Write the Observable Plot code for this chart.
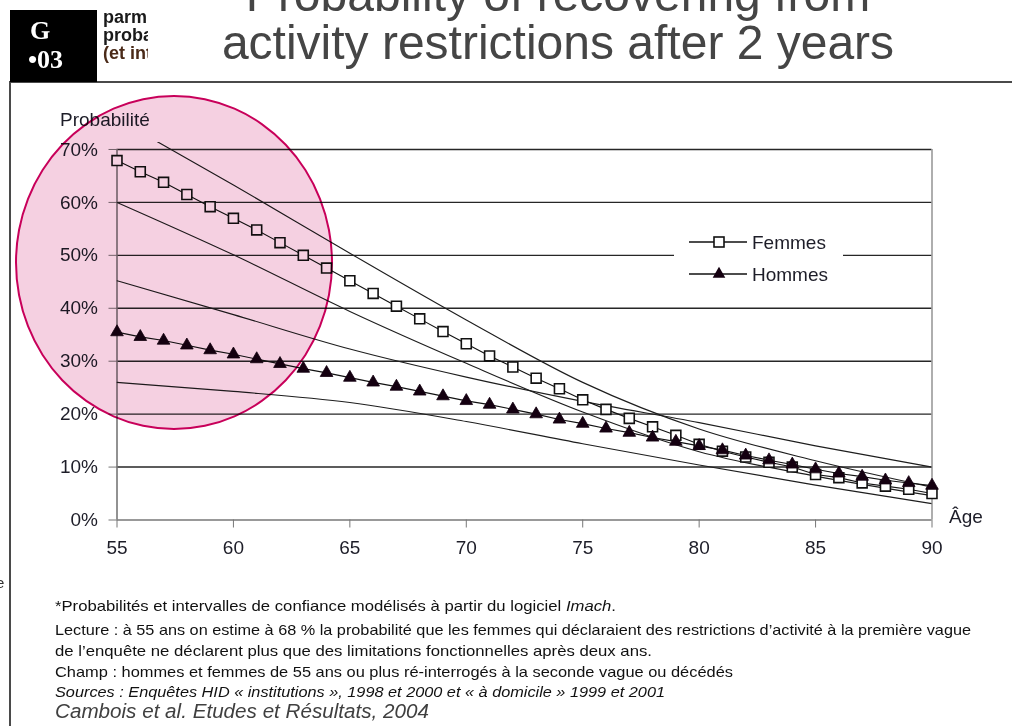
<!DOCTYPE html>
<html>
<head>
<meta charset="utf-8">
<script src="https://cdn.jsdelivr.net/npm/d3@7"></script>
<script src="https://cdn.jsdelivr.net/npm/@observablehq/plot@0.6"></script>
<style>
  html, body { margin: 0; padding: 0; background: #fff; }
  body { width: 1012px; height: 726px; overflow: hidden; position: relative;
         font-family: "Liberation Sans", Arial, sans-serif; }
  #chart { position: absolute; left: 0; top: 100px; }
  #chart svg { overflow: visible; }
  #legend { position: absolute; left: 674px; top: 228px; width: 169px; height: 62px; background: #fff; }
  #ellipse { position: absolute; left: 15px; top: 95px; width: 318px; height: 335px; box-sizing: border-box;
             border: 2px solid #c8005a; border-radius: 50%; background: #f5d0e1; mix-blend-mode: multiply; }
  #overlay { position: absolute; left: 0; top: 0; }
</style>
</head>
<body>
<svg id="overlay" width="1012" height="726"></svg>
<div id="chart"></div>
<div id="legend"></div>
<div id="ellipse"></div>
<script>
// ---------- data ----------
const ages = [55,56,57,58,59,60,61,62,63,64,65,66,67,68,69,70,71,72,73,74,75,76,77,78,79,80,81,82,83,84,85,86,87,88,89,90];
const femmes = [67.9,65.8,63.8,61.5,59.2,57.0,54.8,52.4,50.0,47.6,45.2,42.8,40.4,38.0,35.6,33.3,31.0,28.9,26.8,24.8,22.7,20.9,19.2,17.6,16.0,14.3,13.0,11.9,10.9,10.0,8.6,8.0,7.0,6.4,5.8,5.0];
const hommes = [35.5,34.6,33.9,33.0,32.1,31.3,30.4,29.5,28.6,27.8,26.9,26.0,25.2,24.3,23.4,22.5,21.8,20.9,20.0,19.0,18.2,17.3,16.5,15.6,14.8,14.0,13.2,12.2,11.3,10.5,9.6,8.8,8.2,7.5,7.0,6.5];
const ciAges = [55,60,65,70,75,80,85,90];
const femmesHaut = [75.8,63.3,50.4,37.8,26.0,17.2,11.2,6.2];
const femmesBas  = [60.0,50.1,39.4,29.6,20.4,12.9,8.3,4.6];
const hommesHaut = [45.2,38.8,32.3,27.0,22.4,18.4,14.0,10.0];
const hommesBas  = [26.0,24.3,22.2,18.6,14.4,10.4,6.6,3.1];
const yTicks = [0,10,20,30,40,50,60,70];
const xTicks = [55,60,65,70,75,80,85,90];
const yTop = 71.3;
const seriesNames = ["Femmes", "Hommes"];

// ---------- tables ----------
const femmesData = ages.map((a, i) => ({age: a, v: femmes[i], s: seriesNames[0]}));
const hommesData = ages.map((a, i) => ({age: a, v: hommes[i], s: seriesNames[1]}));
const ciData = [
  ...ciAges.map((a, i) => ({age: a, v: femmesHaut[i], k: "fh"})),
  ...ciAges.map((a, i) => ({age: a, v: femmesBas[i], k: "fb"})),
  ...ciAges.map((a, i) => ({age: a, v: hommesHaut[i], k: "hh"})),
  ...ciAges.map((a, i) => ({age: a, v: hommesBas[i], k: "hb"}))
];
const xMin = d3.min(ages), xMax = d3.max(ages), yMax = d3.max(yTicks);

const chart = Plot.plot({
  width: 1012,
  height: 470,
  marginLeft: 116.5,
  marginRight: 80.5,
  marginTop: 42.1,
  marginBottom: 50.5,
  x: {domain: [xMin, xMax]},
  y: {domain: [0, yTop]},
  style: {background: "transparent", fontFamily: "'Liberation Sans', Arial, sans-serif", fontSize: "19px", color: "#1d1d28", overflow: "visible"},
  marks: [
    Plot.ruleY(yTicks.filter(d => d > 0), {x1: xMin, x2: xMax, stroke: "#262626", strokeWidth: 1.4}),
    Plot.ruleX([xMax], {y1: 0, y2: yMax, stroke: "#8c8c8c", strokeWidth: 1.4}),
    Plot.ruleX([xMin], {y1: 0, y2: yMax, stroke: "#777", strokeWidth: 1.6}),
    Plot.ruleY([0], {x1: xMin, x2: xMax, stroke: "#777", strokeWidth: 1.6}),
    Plot.axisY(yTicks, {tickSize: 8, tickPadding: 11, tickFormat: d => d + "%", stroke: "#777", label: null}),
    Plot.axisX(xTicks, {tickSize: 8, tickPadding: 12, stroke: "#777", label: null}),
    Plot.line(ciData, {x: "age", y: "v", z: "k", curve: "monotone-x", stroke: "#1e1e1e", strokeWidth: 1.15, clip: true}),
    Plot.line(femmesData, {x: "age", y: "v", stroke: "#111", strokeWidth: 1.1}),
    Plot.line(hommesData, {x: "age", y: "v", stroke: "#111", strokeWidth: 1.1}),
    Plot.dot(femmesData, {x: "age", y: "v", symbol: "square", r: 5.6, fill: "white", stroke: "#111", strokeWidth: 1.6}),
    Plot.dot(hommesData, {x: "age", y: "v", symbol: "triangle", r: 4.7, fill: "#140010", stroke: "#140010", strokeWidth: 0.8})
  ]
});
document.getElementById("chart").appendChild(chart);

// ---------- legend ----------
const NS = "http://www.w3.org/2000/svg";
function el(parent, tag, attrs, text) {
  const e = document.createElementNS(NS, tag);
  for (const k in attrs) e.setAttribute(k, attrs[k]);
  if (text != null) e.textContent = text;
  parent.appendChild(e);
  return e;
}
const lg = el(document.getElementById("legend"), "svg", {width: 169, height: 62});
seriesNames.forEach((name, i) => {
  const cy = 14 + i * 32;
  el(lg, "line", {x1: 15, x2: 73, y1: cy, y2: cy, stroke: "#111", "stroke-width": 1.3});
  if (i === 0) el(lg, "rect", {x: 40, y: cy - 5, width: 10, height: 10, fill: "#fff", stroke: "#111", "stroke-width": 1.6});
  else el(lg, "path", {d: d3.symbol(d3.symbolTriangle, Math.PI * 4.7 * 4.7)(), transform: `translate(45,${cy})`, fill: "#140010"});
  el(lg, "text", {x: 78, y: cy + 7, "font-size": 19, fill: "#1d1d28", "font-family": "'Liberation Sans', Arial, sans-serif"}, name);
});

// ---------- page texts ----------
const ov = document.getElementById("overlay");
// frame
el(ov, "path", {d: "M10,726 V82 H1012", fill: "none", stroke: "#4a4a4a", "stroke-width": 2});
// black label box
el(ov, "rect", {x: 10, y: 10, width: 87, height: 72, fill: "#000"});
el(ov, "text", {x: 30, y: 39, fill: "#fff", "font-family": "'Liberation Serif', serif", "font-weight": "bold", "font-size": 26}, "G");
el(ov, "text", {x: 28, y: 68, fill: "#fff", "font-family": "'Liberation Serif', serif", "font-weight": "bold", "font-size": 26}, "•03");
// cut-off original heading
const clip = el(ov, "clipPath", {id: "cutl"});
el(clip, "rect", {x: 100, y: 0, width: 48, height: 82});
const g = el(ov, "g", {"clip-path": "url(#cutl)", "font-family": "'Liberation Sans', Arial, sans-serif", "font-weight": "bold", "font-size": 18});
el(g, "text", {x: 103, y: 23, fill: "#1a1a1a"}, "parmi");
el(g, "text", {x: 103, y: 41, fill: "#1a1a1a"}, "probabilité");
el(g, "text", {x: 103, y: 59, fill: "#4a2a18"}, "(et intervalles");
// title
const tg = el(ov, "g", {"font-family": "'Liberation Sans', Arial, sans-serif", "font-size": 48, fill: "#454545", "text-anchor": "middle"});
el(tg, "text", {x: 558, y: 11}, "Probability of recovering from");
el(tg, "text", {x: 558, y: 59}, "activity restrictions after 2 years");
// axis titles
el(ov, "text", {x: 60, y: 126, "font-size": 19, fill: "#1d1d28", "font-family": "'Liberation Sans', Arial, sans-serif"}, "Probabilité");
el(ov, "text", {x: 949, y: 523, "font-size": 19, fill: "#1d1d28", "font-family": "'Liberation Sans', Arial, sans-serif"}, "Âge");
// stray letter at left edge
el(ov, "text", {x: -4, y: 588, "font-size": 15, fill: "#333", "font-family": "'Liberation Sans', Arial, sans-serif"}, "e");
// notes
const notes = [
  {y: 611, end: 616, parts: [["*Probabilités et intervalles de confiance modélisés à partir du logiciel ", false], ["Imach", true], [".", false]]},
  {y: 635, end: 971, parts: [["Lecture : à 55 ans on estime à 68 % la probabilité que les femmes qui déclaraient des restrictions d’activité à la première vague", false]]},
  {y: 655.5, end: 652, parts: [["de l’enquête ne déclarent plus que des limitations fonctionnelles après deux ans.", false]]},
  {y: 676.5, end: 733, parts: [["Champ : hommes et femmes de 55 ans ou plus ré-interrogés à la seconde vague ou décédés", false]]},
  {y: 696.5, end: 665, parts: [["Sources : Enquêtes HID « institutions », 1998 et 2000 et « à domicile » 1999 et 2001", true]]}
];
notes.forEach(n => {
  const t = el(ov, "text", {x: 55, y: n.y, "font-size": 14.5, fill: "#111", "font-family": "'Liberation Sans Narrow', 'Liberation Sans', Arial, sans-serif",
    textLength: n.end - 55, lengthAdjust: "spacingAndGlyphs"});
  n.parts.forEach(([s, it]) => el(t, "tspan", it ? {"font-style": "italic"} : {}, s));
});
el(ov, "text", {x: 55, y: 718, "font-size": 19.5, "font-style": "italic", fill: "#404040", "font-family": "'Liberation Sans', Arial, sans-serif",
  textLength: 374, lengthAdjust: "spacingAndGlyphs"}, "Cambois et al. Etudes et Résultats, 2004");
</script>
</body>
</html>
